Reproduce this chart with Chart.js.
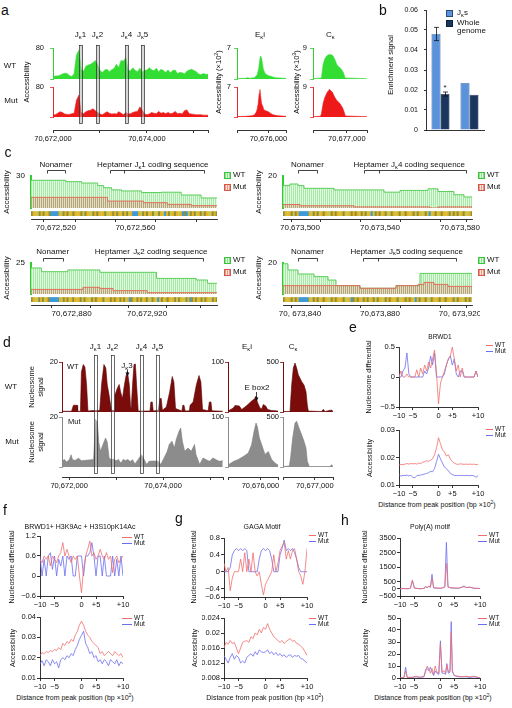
<!DOCTYPE html>
<html>
<head>
<meta charset="utf-8">
<title>Igk accessibility and nucleosome figure</title>
<script src="https://cdn.jsdelivr.net/npm/chart.js@4.4.1/dist/chart.umd.min.js"></script>
<style>
  body { margin: 0; background: #fff; }
  #fig { position: relative; width: 512px; height: 708px; overflow: hidden; background: #fff;
         font-family: 'Liberation Sans', Arial, sans-serif; color: #111; }
  #fig canvas { position: absolute; }
  .t { position: absolute; white-space: nowrap; line-height: 1.15; text-align: center; }
  .t sub { font-size: 72%; vertical-align: -0.3em; line-height: 0; }
  .t sup { font-size: 72%; vertical-align: 0.5em; line-height: 0; }
  .lb { position: absolute; width: 5px; height: 5px; border: 1px solid; }
  .lw { border-color: #39c739; background: repeating-linear-gradient(90deg, #8fdd8f 0 1px, #e4fbe4 1px 2px); }
  .lm { border-color: #d9564a; background: repeating-linear-gradient(90deg, #e59a8a 0 1px, #fbe3dc 1px 2px); }
  .ll { position: absolute; height: 0; border-top: 1px solid; }
</style>
</head>
<body>
<div id="fig"></div>
<script>
// all positions are bp past 70,670,000
const OFF = 70670000;

// ---- a: accessibility over the J-kappa region, 50 bp bins ----
const aStart = 2000, aBin = 50;
const aWT  = [6,8,8,10,13,15,14,9,6,14,62,74,25,20,33,36,38,42,48,38,22,17,23,25,19,24,27,38,30,48,46,55,22,21,29,22,19,28,18,22,23,29,24,21,28,19,25,22,17,23,16,22,23,14,17,16,13,20,23,25,22,19,13,11,14,12,12];
const aMut = [6,6,10,14,12,8,7,7,9,10,45,58,12,9,14,17,18,22,17,12,8,6,10,14,10,8,9,8,14,10,6,12,8,9,12,14,15,27,18,8,6,8,12,10,9,15,10,12,9,12,9,10,15,9,10,8,17,19,9,8,7,6,6,6,5,5,5];
const aEkX    = [5320,5500,5550,5600,5700,5760,5790,5815,5830,5850,5870,5890,5930,5990,6080,6150,6250,6380];
const aEkWT   = [0.1,0.15,0.3,0.15,0.3,1.0,2.4,4.5,5.2,4.8,3.5,2.2,1.2,0.8,0.5,0.3,0.2,0.15];
const aEkMutX = [5320,5500,5650,5700,5740,5760,5780,5800,5815,5830,5850,5880,5900,5950,6000,6050,6100,6200,6380];
const aEkMut  = [0.1,0.15,0.3,0.5,1.2,2.0,3.2,5.5,6.4,5.0,3.2,2.4,1.7,1.4,1.2,0.8,0.5,0.3,0.15];
const aCkX    = [6280,6460,6496,6530,6568,6600,6640,6680,6711,6750,6783,6820,6855,6900,6927,6963,7430];
const aCkWT   = [0.1,0.3,4.3,5.8,6.6,7.0,7.1,7.0,6.6,5.5,4.3,3.6,3.3,2.5,1.9,0.3,0.1];
const aCkMutX = [6280,6440,6460,6496,6530,6568,6600,6620,6650,6690,6740,6780,6820,6850,6900,6927,6970,7430];
const aCkMut  = [0.1,0.2,1.0,4.1,5.8,7.0,7.8,8.3,8.0,7.5,6.0,5.1,4.5,4.1,3.0,2.2,0.3,0.1];
const aJk = [[2554,2618],[2916,2980],[3534,3597],[3875,3938]];
const jkNames = ['1','2','4','5'];

// ---- b: enrichment signal ----
const bGroups   = ['WT', 'Mut'];
const bJk       = [0.048, 0.0235];
const bWhole    = [0.018, 0.0176];
const bJkErr    = [0.0033, 0];
const bWholeErr = [0.001, 0];
const bStar     = [true, false];
const bTicks    = [0, 0.01, 0.02, 0.03, 0.04, 0.05, 0.06];

// ---- c: base-pair accessibility around each J segment ----
const cJ1seq = 'GATTGAGTAGCCCCATGAGTAGATAGTGATTGAGATAGTTAGAGATGAGTACCCATGAGTAGTTGATCAGTAGATACGCTGAGTAGTGATTGAG';
const cJ1wtX = [2507.5,2525,2533,2541,2544,2548,2553,2563,2573,2583,2593,2601];
const cJ1wt  = [26,24.7,23.4,21,19,17,16,14.5,14.8,12.2,9.4,9.4];
const cJ1mutX = [2507.5,2546,2564,2576,2588,2601];
const cJ1mut  = [10,6.5,5,3.4,2.2,2.2];

const cJ4seq = 'GATAGTGACCCCCATGAGTAGATTGAGATAGTTAGAGATGAGTACTGAGTAGTTGATAGTAGATAGTGATTGACTAGTAGATAGTGAGTAGTTAG';
const cJ4wtX = [3491.5,3495,3499,3502,3517,3542,3550,3564,3569,3577,3582,3586];
const cJ4wt  = [14,15,14,12.3,11.3,9.9,11,12,10.3,8.3,6.9,6.9];
const cJ4mutX = [3491.5,3500,3527,3565,3569,3586];
const cJ4mut  = [2.2,1.4,0.7,0,0.7,0.7];

const cJ2seq = 'GATTGAGTAGCCCCCATGAGTAGATAGTGATTGAGATAGTTAGAGATGAGTACGATGAGTAGTTGATCAGTAGATAGTGATTGACGAGTAGTGATTGAG';
const cJ2wtX = [2858.5,2864,2878,2895,2925,2946,2952,2957];
const cJ2wt  = [21,18,19.4,17.5,12.6,11.3,8.6,8.6];
const cJ2mutX = [2858.5,2886,2895,2902,2920,2957];
const cJ2mut  = [3.7,5.4,4.5,2.7,1.1,1.1];

const cJ5seq = 'GATAGTGACCCCCATGAGTAGATTGAGATAGTTACGAGATGAGTAGTGATTGAGATAGTTAGAGATCAGTAGTTGATAGTAGATAGTGATTGAGT';
const cJ5wtX = [3831.5,3834,3839,3847,3854,3858,3870,3888,3900,3926];
const cJ5wt  = [19.5,15.5,12.9,11.2,9,5.4,3.7,5.4,13.3,13.3];
const cJ5mutX = [3831.5,3870,3888,3899,3902,3907,3914,3926];
const cJ5mut  = [5.4,3.7,5.4,6.2,7.5,6.2,4.9,4.9];

// ---- d: nucleosome signal ----
const dWTx = [1850,2050,2090,2170,2180,2240,2260,2300,2335,2370,2400,2510,2650,2690,2740,2780,2810,2850,2900,2960,2975,3025,3065,3095,3135,3165,3205,3240,3280,3305,3320,3350,3380,3410,3435,3470,3720,3740,3770,3790,3900,3930,3960,3985,4070,4140,4195,4230,4265,4400,4420,4445,4470,4560,4575,4640,4710,4765,4805,4840,4960,4985,5020,5040,5270];
const dWT  = [0.3,0.3,2.7,2.7,0.3,0.3,16,19,18,11,0.4,0.6,0.6,11,19,17.6,11,6.8,0.6,0.6,6.8,9.5,11,8,5.4,9.5,14,16.2,11,2.7,1,11,19,19.2,11,0.4,0.4,4,4,0.4,0.7,5.4,5.4,0.7,2,8,14.2,12,1.4,0.4,2.7,2.7,0.4,0.5,2.7,4,11,14.6,12,1,0.5,4,4,0.5,0.3];
const dMutX = [1850,1900,1940,2000,2040,2070,2120,2200,2260,2520,2545,2560,2600,2630,2665,2720,2775,2810,2850,2900,2950,3000,3050,3100,3150,3200,3250,3300,3350,3400,3450,3540,3590,3650,3700,3800,3900,3950,4020,4090,4130,4190,4240,4280,4340,4375,4410,4460,4530,4600,4670,4700,4780,4850,4920,4990,5060,5130,5190,5270];
const dMut  = [2.5,3,2,2.8,4.9,3,2.6,3.5,2.5,3,12,19,18,10,6.3,9,11.6,10,3.6,2.9,3.2,2.5,3,1.5,3,2.6,3,2.2,2.9,1.2,2.5,4.9,3.3,1,2.3,2.4,2.3,1,3.6,6.3,9,10.3,7.6,11,14.3,15.6,10.3,6.3,7.6,6.3,9,5,1,3.6,2.9,2.3,3.6,2.9,2.3,2.5];
const dEkX   = [5300,5415,5451,5545,5595,5667,5718,5811,5883,5905,5934,5991,6027,6063,6114,6157,6243,6380];
const dEkWT  = [2,8,13,12,5,10,14,22,27,32,20,8,6,15,12,5,3,2];
const dEkMutX = [5300,5415,5523,5631,5739,5811,5862,5905,5934,5977,6027,6099,6171,6243,6315,6380];
const dEkMut  = [4,11,15,21,28,45,71,88,81,58,45,25,31,15,8,4];
const dCkX   = [6300,6454,6491,6527,6564,6600,6637,6710,6762,6806,6835,6857,7150,7187,7223,7370,7400];
const dCkWT  = [5,5,270,440,490,440,372,304,270,203,68,10,5,27,5,20,5];
const dCkMutX = [6300,6439,6469,6513,6564,6600,6652,6710,6762,6806,6835,6879,7334,7370,7400];
const dCkMut  = [5,10,100,290,440,457,390,323,257,190,57,5,5,23,5];
const dJk = [[2528,2592],[2890,2954],[3508,3572],[3849,3913]];

// ---- e-h: profiles around peak centres (bp x100) ----
const pX = Array.from({length: 41}, (_, i) => -10 + i * 0.5);
const pTickVals = [-10, -6.5, 0, 3.5, 10];
const pTickText = ['\u221210', '\u22125', '0', '+5', '+10'];

const eTopWT  = [0,0.1,0,0,0.05,0,0,0,0,0.12,0,0.15,0.05,0.2,0.1,0.25,0.15,0.3,0.45,0.05,-0.45,-0.1,0,0.1,0.2,0.3,0.35,0.5,0.3,0.1,0.2,0,0.15,0,0,0,0,0,0,0.1,0];
const eTopMut = [0,0,0.1,0.15,0.4,0.05,0,0,0,0,0,0,0,0.1,0.05,0.15,0.35,0.2,0.4,0,0,0,0,0.05,0.2,0.3,0.35,0.2,0.3,0.05,0,0.1,0.1,0,0,0,0,0,0,0.1,0];
const eAccWT  = [0.0172,0.0175,0.0174,0.0176,0.0178,0.0176,0.0178,0.0177,0.0178,0.0176,0.018,0.0178,0.0183,0.0185,0.0188,0.0186,0.019,0.0195,0.021,0.0235,0.0272,0.025,0.0228,0.022,0.0205,0.021,0.0195,0.0185,0.018,0.0176,0.0175,0.0177,0.0176,0.0175,0.0176,0.0175,0.0176,0.0175,0.0176,0.0174,0.0175];
const eAccMut = [0.0138,0.0132,0.0135,0.0134,0.0136,0.0133,0.0135,0.0128,0.0126,0.0134,0.0135,0.0136,0.0138,0.014,0.0142,0.0145,0.015,0.0148,0.016,0.0185,0.0212,0.0195,0.018,0.0165,0.016,0.0152,0.0142,0.0138,0.0135,0.0134,0.0135,0.0134,0.0135,0.0134,0.0135,0.0134,0.0134,0.0135,0.0133,0.0128,0.0134];

const fTopWT  = [0.5,0.4,0.6,0.5,0.6,0.3,0.6,0.5,0.4,0.6,0.7,1.0,0.6,0.8,0.6,0.4,0.6,0.5,0.6,0,-0.5,0.2,0.6,0.8,1.05,0.6,0.7,0.5,0.6,0.8,0.6,0.5,0.7,0.5,0.6,0.1,0.5,0.6,0.4,0.5,0.6];
const fTopMut = [0.6,0,0.5,0,0.6,0.7,0.2,0.6,0,0.5,0.3,0.6,0,0.6,0.5,0.6,0,0,0.6,0.6,0.6,0,0.6,0.6,0.7,1.0,0.6,0,0.6,0.6,0,0.6,0,0,0,0.6,0,0.5,0,0.6,0];
const fAccWT  = [0.021,0.0225,0.022,0.023,0.0225,0.0235,0.023,0.024,0.0235,0.025,0.024,0.027,0.026,0.028,0.027,0.029,0.028,0.031,0.033,0.036,0.038,0.036,0.033,0.031,0.03,0.028,0.027,0.026,0.025,0.022,0.023,0.021,0.022,0.023,0.022,0.021,0.023,0.022,0.021,0.022,0.02];
const fAccMut = [0.017,0.0185,0.016,0.019,0.018,0.016,0.019,0.017,0.018,0.015,0.019,0.02,0.019,0.021,0.02,0.022,0.021,0.024,0.026,0.029,0.031,0.033,0.027,0.025,0.022,0.023,0.02,0.021,0.018,0.019,0.017,0.019,0.018,0.016,0.019,0.018,0.017,0.019,0.016,0.018,0.017];

const gTopWT  = [0.2,0,0.1,-0.45,-0.15,0,0,0,0.3,0,0.45,0,0.3,0,0.45,0,-0.1,0,-0.3,-0.55,-0.3,-0.2,-0.1,0,0.4,0,0.2,0.5,0.6,0.7,0.3,0.5,0.3,0.5,0.55,0.3,0,-0.1,-0.3,0,0.55];
const gTopMut = [0,0,0,0.1,0.4,0.5,0.55,0.5,0.55,0.5,0.55,0.5,0,0,0,0,0,0.3,0.5,0.55,0.5,0.55,0.5,0.3,0,0,0,0.4,0.55,0.75,0.5,0.55,0.5,0.55,0.45,0.3,0.1,0,0,0,0];
const gAccWT  = [0.016,0.0175,0.017,0.018,0.0172,0.0175,0.016,0.0145,0.016,0.0175,0.0178,0.018,0.0175,0.019,0.0185,0.02,0.0195,0.021,0.02,0.0215,0.021,0.0225,0.021,0.02,0.019,0.0185,0.018,0.0175,0.018,0.0172,0.0178,0.0182,0.0185,0.0178,0.018,0.0172,0.017,0.0165,0.016,0.015,0.014];
const gAccMut = [0.014,0.013,0.012,0.0135,0.0145,0.013,0.014,0.0135,0.012,0.0125,0.012,0.0135,0.014,0.0145,0.0138,0.015,0.0142,0.0155,0.015,0.0148,0.015,0.0155,0.0145,0.015,0.0142,0.0148,0.014,0.0145,0.0138,0.0142,0.0135,0.014,0.0142,0.0135,0.014,0.0138,0.014,0.0132,0.013,0.0125,0.012];

const hTopX   = [-10,-9,-8,-7.4,-6.9,-6.4,-5,-4,-3.6,-3.2,-2.8,-2.4,-2,-1.6,-1,0,0.6,1.2,1.6,2,2.6,3.5,4.5,5.5,6,6.5,7.5,8.5,9.5,10];
const hTopWT  = [0,20,0,30,600,40,0,30,180,60,200,100,700,80,60,40,50,100,1750,100,80,60,40,120,200,90,100,40,30,20];
const hTopMut = [0,10,0,40,550,50,0,20,120,80,150,120,1000,60,40,30,60,150,3200,150,60,40,30,100,150,80,110,30,20,10];
const hAccX   = [-10,-9,-8.6,-8.2,-7,-6,-5,-4,-3.6,-3.2,-2.8,-2.4,-2,-1.6,-1.2,-0.8,-0.3,0.1,0.5,1,1.4,1.7,2.1,2.5,2.8,3.1,3.6,4.5,5.5,6.5,7.5,8.5,9.5,10];
const hAccWT  = [0,0.5,6,0.5,0.5,1.5,0.5,1.5,5,10,7,4,8,3,10,5,4,28,5,6,4,11,5,6,38,6,2,1.5,1,1.5,1,1.5,0.5,0];
const hAccMut = [0,0.5,9,0.5,0.5,1,0.5,1,7,8,6,9,5,2,6,4,3,31,4,4,3,12,4,5,47,5,2,1,1,1,0.5,1,0.5,0];

// ---- styling ----
const FONT = "'Liberation Sans', Arial, sans-serif";
const WT_LINE = '#f06e6e', MUT_LINE = '#6d6df0';
const A_GREEN = '#33dd33', A_RED = '#ee1a1a';
const D_RED = '#7a0c0c', D_GRAY = '#8c8c8c';
const SEQ_COL = {A: '#e6b422', C: '#3d9ad6', G: '#8f8f3a', T: '#cfc34a'};

Chart.defaults.font.family = FONT;
Chart.defaults.font.size = 7.5;
Chart.defaults.color = '#111';
Chart.defaults.animation = false;
Chart.defaults.responsive = false;
Chart.defaults.plugins.legend.display = false;
Chart.defaults.plugins.tooltip.enabled = false;
Chart.defaults.elements.point.radius = 0;
Chart.defaults.elements.line.tension = 0;

const fig = document.getElementById('fig');
const fmtPos = v => (OFF + v).toLocaleString('en-US');
const num = v => String(v).replace('-', '\u2212');
const Jk = s => ['J', ['\u03ba'], s];

function hatch(a, b) {
  const p = document.createElement('canvas');
  p.width = 2; p.height = 1;
  const g = p.getContext('2d');
  g.fillStyle = a; g.fillRect(0, 0, 1, 1);
  g.fillStyle = b; g.fillRect(1, 0, 1, 1);
  return g.createPattern(p, 'repeat');
}
const WT_HATCH = hatch('#a6e8a6', '#e2fae2');
const MUT_HATCH = hatch('rgba(190,110,80,0.55)', 'rgba(235,170,150,0.35)');

function txt(x, y, html, size, anchor, rot) {
  const d = document.createElement('div');
  d.className = 't';
  d.innerHTML = html;
  d.style.left = x + 'px';
  d.style.top = y + 'px';
  d.style.fontSize = size + 'px';
  const tx = anchor === 'l' ? '0%' : anchor === 'r' ? '-100%' : '-50%';
  d.style.transform = 'translate(' + tx + ',-50%)' + (rot ? ' rotate(' + rot + 'deg)' : '');
  fig.appendChild(d);
}
function legBox(x, y, cls, label) {
  const d = document.createElement('div');
  d.className = 'lb ' + cls;
  d.style.left = x + 'px'; d.style.top = (y - 3.5) + 'px';
  fig.appendChild(d);
  txt(x + 9, y, label, 8, 'l');
}
function legLine(x, y, w, color, label) {
  const d = document.createElement('div');
  d.className = 'll';
  d.style.left = x + 'px'; d.style.top = y + 'px'; d.style.width = w + 'px'; d.style.borderColor = color;
  fig.appendChild(d);
  txt(x + w + 2, y, label, 6.5, 'l');
}

// canvas placed so the plot area lands at L..R, T..B
function mount(L, T, R, B, yW, xH, p) {
  const c = document.createElement('canvas');
  const x0 = L - yW - p[0], y0 = T - p[1];
  c.width = R + p[2] - x0;
  c.height = B + xH + p[3] - y0;
  c.style.left = x0 + 'px';
  c.style.top = y0 + 'px';
  fig.appendChild(c);
  return {c: c, padding: {left: p[0], top: p[1], right: p[2], bottom: p[3]}};
}
function noPad(s) { s.paddingLeft = s.paddingRight = s.paddingTop = s.paddingBottom = 0; }
const fixW = w => s => { s.width = w; noPad(s); };
const fixH = h => s => { s.height = h; noPad(s); };

function axX(min, max, vals, lab, h, size) {
  return {
    type: 'linear', min: min, max: max, offset: false,
    afterBuildTicks: s => { s.ticks = vals.map(v => ({value: v})); },
    afterFit: fixH(h),
    ticks: {callback: v => lab(v), autoSkip: false, maxRotation: 0, minRotation: 0, padding: 1, font: {size: size || 7.5}},
    grid: {drawOnChartArea: false, tickLength: 3, color: '#000', lineWidth: 0.8},
    border: {color: '#000', width: 0.8}
  };
}
function axY(min, max, vals, lab, w, o) {
  o = o || {};
  return {
    type: 'linear', min: min, max: max,
    afterBuildTicks: s => { s.ticks = vals.map(v => ({value: v})); },
    afterFit: fixW(w),
    ticks: {callback: v => lab(v), autoSkip: false, padding: o.pad != null ? o.pad : 1, font: {size: o.size || 7.5}},
    grid: {display: o.grid !== false, drawOnChartArea: false, tickLength: o.tick != null ? o.tick : 3, color: o.color || '#000', lineWidth: 0.8},
    border: {color: o.color || '#000', width: o.bw || 0.8}
  };
}

function richText(ctx, parts, x, y, size, align) {
  const segs = parts.map(p => Array.isArray(p) ? {t: p[0], s: size * 0.72, dy: size * 0.3} : {t: p, s: size, dy: 0});
  let w = 0;
  segs.forEach(g => { ctx.font = g.s + 'px ' + FONT; g.w = ctx.measureText(g.t).width; w += g.w; });
  let cx = align === 'left' ? x : align === 'right' ? x - w : x - w / 2;
  ctx.textAlign = 'left';
  ctx.textBaseline = 'middle';
  segs.forEach(g => { ctx.font = g.s + 'px ' + FONT; ctx.fillText(g.t, cx, y + g.dy); cx += g.w; });
}

// labels, brackets and arrows tied to the x scale
Chart.register({
  id: 'notes',
  afterDraw(chart) {
    const items = chart.canvas._notes;
    if (!items) return;
    const ctx = chart.ctx, x = chart.scales.x, top = chart.chartArea.top;
    ctx.save();
    ctx.fillStyle = '#111'; ctx.strokeStyle = '#111'; ctx.lineWidth = 0.8;
    items.forEach(it => {
      if (it.br) {
        const px = it.br.map(v => Math.round(x.getPixelForValue(v)) + 0.5);
        const y = Math.round(top + it.dy) + 0.5;
        ctx.beginPath();
        ctx.moveTo(px[0], y); ctx.lineTo(px[px.length - 1], y);
        px.forEach(p => { ctx.moveTo(p, y); ctx.lineTo(p, y + 3); });
        ctx.stroke();
      } else if (it.ar != null) {
        const px = Math.round(x.getPixelForValue(it.ar)) + 0.5, y0 = top + it.dy, y1 = top + it.dy2;
        ctx.beginPath(); ctx.moveTo(px, y0); ctx.lineTo(px, y1 - 2); ctx.stroke();
        ctx.beginPath(); ctx.moveTo(px - 2, y1 - 3.5); ctx.lineTo(px + 2, y1 - 3.5); ctx.lineTo(px, y1); ctx.closePath(); ctx.fill();
      } else {
        richText(ctx, typeof it.t === 'string' ? [it.t] : it.t, x.getPixelForValue(it.x), top + it.dy, it.size || 8, it.align || 'center');
      }
    });
    ctx.restore();
  }
});

// J-segment boxes spanning both tracks
Chart.register({
  id: 'spans',
  afterDatasetsDraw(chart) {
    const o = chart.canvas._spans;
    if (!o) return;
    const ctx = chart.ctx, x = chart.scales.x;
    const top = Math.round(chart.scales.yTop.top - o.ext[0]) + 0.5;
    const bot = Math.round(chart.scales.yBot.bottom + o.ext[1]) + 0.5;
    ctx.save();
    ctx.fillStyle = o.fill; ctx.strokeStyle = '#2a2a2a'; ctx.lineWidth = 0.7;
    o.spans.forEach(s => {
      const x0 = Math.round(x.getPixelForValue(s[0])) + 0.5, x1 = Math.round(x.getPixelForValue(s[1])) + 0.5;
      ctx.fillRect(x0, top, x1 - x0, bot - top);
      ctx.strokeRect(x0, top, x1 - x0, bot - top);
    });
    ctx.restore();
  }
});

// error bars and significance mark for panel b
Chart.register({
  id: 'errbars',
  afterDatasetsDraw(chart) {
    const ctx = chart.ctx, y = chart.scales.y;
    chart.data.datasets.forEach((ds, di) => {
      if (!ds.err) return;
      chart.getDatasetMeta(di).data.forEach((bar, j) => {
        const e = ds.err[j], v = ds.data[j];
        ctx.save();
        ctx.strokeStyle = '#111'; ctx.fillStyle = '#111'; ctx.lineWidth = 0.8;
        if (e) {
          const y0 = y.getPixelForValue(v - e), y1 = y.getPixelForValue(v + e), cx = Math.round(bar.x) + 0.5;
          ctx.beginPath();
          ctx.moveTo(cx, y0); ctx.lineTo(cx, y1);
          ctx.moveTo(cx - 2.5, y0); ctx.lineTo(cx + 2.5, y0);
          ctx.moveTo(cx - 2.5, y1); ctx.lineTo(cx + 2.5, y1);
          ctx.stroke();
        }
        if (ds.star && ds.star[j]) {
          ctx.font = '8px ' + FONT; ctx.textAlign = 'center'; ctx.textBaseline = 'middle';
          ctx.fillText('*', bar.x, y.getPixelForValue(v + (e || 0)) - 4);
        }
        ctx.restore();
      });
    });
  }
});

// two stacked tracks (WT over Mut) sharing one genomic x axis
function trackChart(o) {
  const m = mount(o.L, o.T, o.R, o.B, o.yW, 12, [24, 24, 24, 2]);
  m.c._notes = o.notes;
  if (o.spans) m.c._spans = {spans: o.spans, fill: o.spanFill, ext: o.ext};
  const trackAxis = (t, sw, w8) => Object.assign(
    axY(0, t.max, [0, t.max], v => v === t.max ? String(t.max) : '', o.yW, {color: t.axis, pad: o.lpad, bw: 1}),
    {position: 'left', stack: 'tr', stackWeight: sw, weight: w8});
  const spacer = (sw, w8) => ({type: 'linear', position: 'left', stack: 'tr', stackWeight: sw, weight: w8,
    ticks: {display: false}, grid: {display: false}, border: {display: false}, afterFit: fixW(o.yW)});
  const ds = (t, id) => ({data: t.x.map((x, i) => ({x: x, y: t.y[i]})), yAxisID: id, fill: 'origin',
    backgroundColor: t.fill, borderColor: t.line, borderWidth: 0.6});
  new Chart(m.c, {
    type: 'line',
    data: {datasets: [ds(o.top, 'yTop'), ds(o.bot, 'yBot')]},
    options: {
      layout: {padding: m.padding},
      scales: {
        x: axX(o.xMin, o.xMax, o.ticks, v => o.labels.includes(v) ? fmtPos(v) : '', 12),
        yTop: trackAxis(o.top, o.h[0], 4),
        sp1: spacer(o.h[1], 3),
        yBot: trackAxis(o.bot, o.h[2], 2),
        sp2: spacer(o.h[3], 1)
      }
    }
  });
}

// stepped per-base accessibility with the sequence strip underneath
function seqPanel(o) {
  const m = mount(o.L, o.T, o.R, o.B, 16, 12, [14, 26, 8, 2]);
  m.c._notes = o.notes;
  const pts = (xs, ys) => xs.map((x, i) => ({x: x, y: ys[i]}));
  const bases = [...o.seq];
  new Chart(m.c, {
    type: 'line',
    data: {datasets: [
      {data: pts(o.mutX, o.mut), yAxisID: 'y', stepped: 'before', fill: 'origin', backgroundColor: MUT_HATCH, borderColor: '#e2705c', borderWidth: 1, order: 0},
      {data: pts(o.wtX, o.wt), yAxisID: 'y', stepped: 'before', fill: 'origin', backgroundColor: WT_HATCH, borderColor: '#5ccf5c', borderWidth: 1, order: 1},
      {type: 'bar', data: bases.map((b, i) => ({x: o.seqStart + i, y: [0.3, 0.68]})), yAxisID: 'ys',
       backgroundColor: bases.map(b => SEQ_COL[b]), barPercentage: 1, categoryPercentage: 1, order: 2}
    ]},
    options: {
      layout: {padding: m.padding},
      scales: {
        x: axX(o.xMin, o.xMax, o.ticks, v => { const k = o.lblVals.indexOf(v); return k < 0 ? '' : o.lblText[k]; }, 12, 8),
        y: Object.assign(axY(0, o.yMax, [0, o.yMax], v => v === o.yMax ? String(v) : '', 16, {grid: false, color: '#2bd12b', bw: 2, size: 8, pad: 3}),
          {position: 'left', stack: 'c', stackWeight: o.base - o.T, weight: 2}),
        ys: {type: 'linear', position: 'left', stack: 'c', stackWeight: o.B - o.base, weight: 1, min: 0, max: 1,
          ticks: {display: false}, grid: {display: false}, border: {display: false}, afterFit: fixW(16)}
      }
    }
  });
}

// WT / Mut profile around peak centres
function profile(L, T, R, B, xs, wt, mut, yMin, yMax, yTicks) {
  const m = mount(L, T, R, B, 22, 11, [2, 6, 10, 2]);
  const pts = ys => xs.map((x, i) => ({x: x, y: ys[i]}));
  new Chart(m.c, {
    type: 'line',
    data: {datasets: [
      {data: pts(wt), borderColor: WT_LINE, borderWidth: 0.8},
      {data: pts(mut), borderColor: MUT_LINE, borderWidth: 0.8}
    ]},
    options: {
      layout: {padding: m.padding},
      scales: {
        x: axX(-10, 10, pTickVals, v => pTickText[pTickVals.indexOf(v)], 11),
        y: axY(yMin, yMax, yTicks, num, 22)
      }
    }
  });
}

// ================= panel a =================
const aBins = aWT.map((_, i) => aStart + i * aBin);
trackChart({L: 53, T: 48, R: 208, B: 130, yW: 20, lpad: 6, h: [31, 8, 30, 13],
  xMin: 2000, xMax: 5300, ticks: [2000, 3000, 4000, 5000, 5300], labels: [2000, 4000],
  top: {x: aBins, y: aWT, max: 80, fill: A_GREEN, line: A_GREEN, axis: '#33cc33'},
  bot: {x: aBins, y: aMut, max: 80, fill: A_RED, line: A_RED, axis: '#e62a2a'},
  spans: aJk, spanFill: 'rgba(175,175,175,0.5)', ext: [3, 6],
  notes: aJk.map((s, i) => ({x: (s[0] + s[1]) / 2, dy: -13, t: Jk(jkNames[i])}))});
trackChart({L: 237, T: 48, R: 286, B: 130, yW: 10, lpad: 3, h: [31, 8, 30, 13],
  xMin: 5320, xMax: 6380, ticks: [5320, 6000, 6380], labels: [6000],
  top: {x: aEkX, y: aEkWT, max: 7, fill: A_GREEN, line: A_GREEN, axis: '#33cc33'},
  bot: {x: aEkMutX, y: aEkMut, max: 7, fill: A_RED, line: A_RED, axis: '#e62a2a'},
  notes: [{x: 5817, dy: -13, t: ['E', ['\u03ba'], 'i']}]});
trackChart({L: 313, T: 48, R: 367, B: 130, yW: 10, lpad: 3, h: [31, 8, 30, 13],
  xMin: 6280, xMax: 7430, ticks: [6280, 7000, 7430], labels: [7000],
  top: {x: aCkX, y: aCkWT, max: 9, fill: A_GREEN, line: A_GREEN, axis: '#33cc33'},
  bot: {x: aCkMutX, y: aCkMut, max: 9, fill: A_RED, line: A_RED, axis: '#e62a2a'},
  notes: [{x: 6647, dy: -13, t: ['C', ['\u03ba']]}]});

// ================= panel b =================
const mb = mount(426, 10, 484, 130, 30, 14, [2, 6, 2, 2]);
new Chart(mb.c, {
  type: 'bar',
  data: {labels: bGroups, datasets: [
    {data: bJk, err: bJkErr, backgroundColor: '#5b93da', borderColor: '#2a4d7c', borderWidth: 0.6},
    {data: bWhole, err: bWholeErr, star: bStar, backgroundColor: '#1a355e', borderColor: '#0d1f3a', borderWidth: 0.6}
  ]},
  options: {
    layout: {padding: mb.padding},
    datasets: {bar: {categoryPercentage: 0.62, barPercentage: 1}},
    scales: {
      x: {afterFit: fixH(14), grid: {display: false}, border: {color: '#000', width: 0.8},
          ticks: {padding: 4, font: {size: 7.5}, maxRotation: 0}},
      y: axY(0, 0.06, bTicks, v => v === 0 ? '0' : v.toFixed(2), 30, {pad: 6, tick: 2, size: 7})
    }
  }
});

// ================= panel c =================
seqPanel({L: 31, T: 176, base: 208, B: 219, R: 217, yMax: 30, xMin: 2507.5, xMax: 2601,
  seq: cJ1seq, seqStart: 2508, wtX: cJ1wtX, wt: cJ1wt, mutX: cJ1mutX, mut: cJ1mut,
  ticks: [2507.5, 2520, 2540, 2560, 2580, 2601], lblVals: [2520, 2560], lblText: [fmtPos(2520), fmtPos(2560)],
  notes: [{br: [2515.5, 2524.5], dy: -6}, {br: [2547, 2554.5, 2594.5], dy: -6},
    {x: 2520, dy: -11, t: 'Nonamer'}, {x: 2549.5, dy: -11, t: 'Heptamer'},
    {x: 2559.5, dy: -11, t: Jk('1 coding sequence'), align: 'left'}]});
seqPanel({L: 283, T: 176, base: 208, B: 219, R: 472, yMax: 20, xMin: 3491.5, xMax: 3586,
  seq: cJ4seq, seqStart: 3492, wtX: cJ4wtX, wt: cJ4wt, mutX: cJ4mutX, mut: cJ4mut,
  ticks: [3491.5, 3500, 3520, 3540, 3560, 3580, 3586], lblVals: [3500, 3540, 3580], lblText: [fmtPos(3500), fmtPos(3540), fmtPos(3580)],
  notes: [{br: [3499, 3508.5], dy: -6}, {br: [3532, 3539.5, 3583], dy: -6},
    {x: 3503.75, dy: -11, t: 'Nonamer'}, {x: 3535.5, dy: -11, t: 'Heptamer'},
    {x: 3545.5, dy: -11, t: Jk('4 coding sequence'), align: 'left'}]});
seqPanel({L: 31, T: 263, base: 294, B: 305, R: 217, yMax: 25, xMin: 2858.5, xMax: 2957,
  seq: cJ2seq, seqStart: 2859, wtX: cJ2wtX, wt: cJ2wt, mutX: cJ2mutX, mut: cJ2mut,
  ticks: [2858.5, 2880, 2900, 2920, 2940, 2957], lblVals: [2880, 2920], lblText: [fmtPos(2880), fmtPos(2920)],
  notes: [{br: [2865, 2875.5], dy: -5.5}, {br: [2899.5, 2907.5, 2949.5], dy: -5.5},
    {x: 2870, dy: -11.5, t: 'Nonamer'}, {x: 2901.6, dy: -11.5, t: 'Heptamer'},
    {x: 2912.7, dy: -11.5, t: Jk('2 coding sequence'), align: 'left'}]});
seqPanel({L: 283, T: 263, base: 294, B: 305, R: 472, yMax: 20, xMin: 3831.5, xMax: 3926,
  seq: cJ5seq, seqStart: 3832, wtX: cJ5wtX, wt: cJ5wt, mutX: cJ5mutX, mut: cJ5mut,
  ticks: [3831.5, 3840, 3860, 3880, 3900, 3920, 3926], lblVals: [3840, 3880, 3920], lblText: ['70, 673,840', '70,673,880', '70, 673,920'],
  notes: [{br: [3839, 3848.5], dy: -5.5}, {br: [3871.5, 3879, 3918], dy: -5.5},
    {x: 3843.75, dy: -11.5, t: 'Nonamer'}, {x: 3874, dy: -11.5, t: 'Heptamer'},
    {x: 3884.5, dy: -11.5, t: Jk('5 coding sequence'), align: 'left'}]});

// ================= panel d =================
trackChart({L: 62, T: 362, R: 223, B: 477, yW: 18, lpad: 1, h: [50, 5, 50, 10],
  xMin: 1847, xMax: 5276, ticks: [2000, 3000, 4000, 5000, 5276], labels: [2000, 4000],
  top: {x: dWTx, y: dWT, max: 20, fill: D_RED, line: '#5c0606', axis: D_RED},
  bot: {x: dMutX, y: dMut, max: 20, fill: D_GRAY, line: '#7d7d7d', axis: '#8a8a8a'},
  spans: dJk, spanFill: 'rgba(255,255,255,0.3)', ext: [7, 6],
  notes: dJk.map((s, i) => ({x: (s[0] + s[1]) / 2, dy: -15, t: Jk(jkNames[i])}))
    .concat([{x: 3231, dy: 4, t: Jk('3')}, {ar: 3231, dy: 8, dy2: 14}])});
trackChart({L: 228, T: 362, R: 278, B: 477, yW: 18, lpad: 1, h: [50, 5, 50, 10],
  xMin: 5300, xMax: 6380, ticks: [5300, 6000, 6380], labels: [6000],
  top: {x: dEkX, y: dEkWT, max: 100, fill: D_RED, line: '#5c0606', axis: D_RED},
  bot: {x: dEkMutX, y: dEkMut, max: 100, fill: D_GRAY, line: '#7d7d7d', axis: '#8a8a8a'},
  notes: [{x: 5710, dy: -15, t: ['E', ['\u03ba'], 'i']}, {x: 5926, dy: 26, t: 'E box2'}, {ar: 5905, dy: 30, dy2: 39}]});
trackChart({L: 283, T: 362, R: 333, B: 477, yW: 18, lpad: 1, h: [50, 5, 50, 10],
  xMin: 6300, xMax: 7400, ticks: [6300, 7000, 7400], labels: [7000],
  top: {x: dCkX, y: dCkWT, max: 500, fill: D_RED, line: '#5c0606', axis: D_RED},
  bot: {x: dCkMutX, y: dCkMut, max: 500, fill: D_GRAY, line: '#7d7d7d', axis: '#8a8a8a'},
  notes: [{x: 6520, dy: -15, t: ['C', ['\u03ba']]}]});

// ================= panels e-h =================
profile(399, 347, 478, 407, pX, eTopWT, eTopMut, -0.5, 0.5, [-0.5, 0, 0.5]);
profile(399, 430, 478, 485, pX, eAccWT, eAccMut, 0.01, 0.03, [0.01, 0.02, 0.03]);
profile(40, 536, 123, 596, pX, fTopWT, fTopMut, -0.6, 1.2, [-0.6, 0, 0.6, 1.2]);
profile(40, 617, 123, 678, pX, fAccWT, fAccMut, 0.01, 0.04, [0.01, 0.02, 0.03, 0.04]);
profile(224, 538, 307, 597, pX, gTopWT, gTopMut, -0.6, 0.8, [-0.6, -0.4, 0, 0.4, 0.8]);
profile(224, 618, 307, 678, pX, gAccWT, gAccMut, 0.008, 0.024, [0.008, 0.012, 0.016, 0.02, 0.024]);
profile(400, 538, 480, 596, hTopX, hTopWT, hTopMut, -500, 3500, [-500, 0, 500, 1500, 2500, 3500]);
profile(400, 618, 480, 678, hAccX, hAccWT, hAccMut, 0, 50, [0, 10, 20, 30, 40, 50]);

// ================= text =================
[['a', 5, 10], ['b', 383, 10], ['c', 8, 152], ['d', 7, 342], ['e', 353, 327], ['f', 5, 510], ['g', 179, 518], ['h', 345, 520]]
  .forEach(l => txt(l[1], l[2], l[0], 14));

txt(10, 66, 'WT', 8); txt(11, 101, 'Mut', 8);
txt(27, 82, 'Accessibility', 7.5, 'c', -90);
txt(219, 82, 'Accessibility (\u00d710<sup>2</sup>)', 7.5, 'c', -90);
txt(297, 82, 'Accessibility (\u00d710<sup>3</sup>)', 7.5, 'c', -90);

txt(391, 65, 'Enrichment signal', 7.5, 'c', -90);
(function () {
  const b1 = document.createElement('div');
  b1.className = 'lb'; b1.style.cssText = 'left:446px;top:10px;background:#5b93da;border-color:#2a4d7c';
  const b2 = document.createElement('div');
  b2.className = 'lb'; b2.style.cssText = 'left:446px;top:20px;background:#1a355e;border-color:#0d1f3a';
  fig.appendChild(b1); fig.appendChild(b2);
})();
txt(457, 13, 'J<sub>\u03ba</sub>s', 8, 'l');
txt(457, 23, 'Whole', 8, 'l');
txt(457, 31, 'genome', 8, 'l');

[[7, 192], [259, 192], [7, 278], [259, 278]].forEach(p => txt(p[0], p[1], 'Accessibility', 8, 'c', -90));
[[224, 175], [478, 175]].forEach(p => { legBox(p[0], p[1], 'lw', 'WT'); legBox(p[0], p[1] + 12, 'lm', 'Mut'); });
[[224, 260], [478, 260]].forEach(p => { legBox(p[0], p[1], 'lw', 'WT'); legBox(p[0], p[1] + 12, 'lm', 'Mut'); });

txt(11, 387, 'WT', 8); txt(12, 442, 'Mut', 8);
txt(37, 387, 'Nucleosome<br>signal', 7.5, 'c', -90);
txt(37, 442, 'Nucleosome<br>signal', 7.5, 'c', -90);
txt(67, 367, 'WT', 7.5, 'l');
txt(68, 422, 'Mut', 7.5, 'l');

txt(440, 337, 'BRWD1', 6.5);
txt(80, 527, 'BRWD1+ H3K9Ac + H3S10pK14Ac', 7);
txt(262, 527, 'GAGA Motif', 7);
txt(430, 527, 'Poly(A) motif', 7);
[[369, 377, 458], [12, 567, 648], [194, 567, 648], [365, 567, 648]].forEach(p => {
  txt(p[0], p[1], 'Nucleosome differential', 7, 'c', -90);
  txt(p[0] + 1, p[2], 'Accessibility', 7, 'c', -90);
});
[[437, 505], [75, 698], [265, 698], [433, 698]].forEach(p => txt(p[0], p[1], 'Distance from peak position (bp \u00d710<sup>2</sup>)', 7));

[[486, 345, 7, 429], [122, 537, 10, 618], [309, 535, 7, 618], [478, 535, 9, 618]].forEach(p => {
  legLine(p[0], p[1], p[2], WT_LINE, 'WT');
  legLine(p[0], p[1] + 6, p[2], MUT_LINE, 'Mut');
  legLine(p[0], p[3], p[2], WT_LINE, 'WT');
  legLine(p[0], p[3] + 6, p[2], MUT_LINE, 'Mut');
});
</script>
</body>
</html>
